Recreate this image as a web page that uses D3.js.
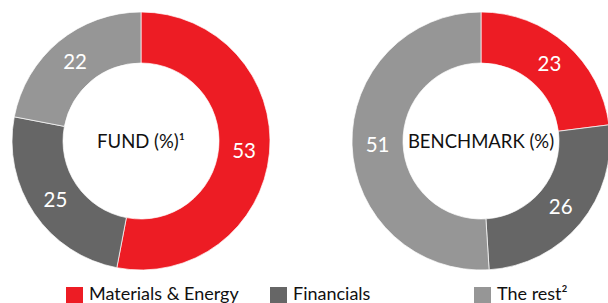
<!DOCTYPE html>
<html>
<head>
<meta charset="utf-8">
<script src="https://cdn.jsdelivr.net/npm/d3@7"></script>
<style>
  body { margin: 0; background: #fff; }
  svg { display: block; font-family: Lato, "Open Sans", sans-serif; }
</style>
</head>
<body>
<div id="chart"></div>
<script>
const W = 608, H = 303

// data
const sectors = ["Materials & Energy", "Financials", "The rest\u00B2"]
const fundValues = [53, 25, 22]
const benchValues = [23, 26, 51]
const donutTitles = ["FUND (%)\u00B9", "BENCHMARK (%)"]
const sectorColors = ["#ed1c24", "#666666", "#969696"]

let svg = d3.select("#chart")
            .append("svg")
            .attr("width", W)
            .attr("height", H)

let color = d3.scaleOrdinal().domain(sectors).range(sectorColors)

let outerR = 129, innerR = 78

let pie = d3.pie().sort(null).value(function(d) { return d.v })
let arc = d3.arc().innerRadius(innerR).outerRadius(outerR)
let labelArc = d3.arc().innerRadius((innerR + outerR) / 2).outerRadius((innerR + outerR) / 2)

// x positions of the two donut centres
let cx = d3.scalePoint().domain(donutTitles).range([141, 481])

function drawDonut(title, values) {
    let data = sectors.map(function(s, i) { return {k: s, v: values[i]} })
    let g = svg.append("g")
               .attr("transform", "translate(" + cx(title) + ",141)")

    g.selectAll("path")
     .data(pie(data))
     .enter()
     .append("path")
     .attr("d", arc)
     .attr("fill", function(d) { return color(d.data.k) })
     .attr("stroke", "#fff")
     .attr("stroke-width", 0.7)

    g.selectAll(".lbl")
     .data(pie(data))
     .enter()
     .append("text")
     .attr("class", "lbl")
     .attr("transform", function(d) { return "translate(" + labelArc.centroid(d) + ")" })
     .attr("text-anchor", "middle")
     .attr("dy", "0.36em")
     .attr("fill", "#fff")
     .style("font-size", "20.5px")
     .text(function(d) { return d.data.v })

    g.append("text")
     .attr("text-anchor", "middle")
     .attr("dy", "0.36em")
     .attr("fill", "#111")
     .style("font-size", "18.5px")
     .text(title)
}

drawDonut(donutTitles[0], fundValues)
drawDonut(donutTitles[1], benchValues)

// legend
let legX = d3.scaleOrdinal().domain(sectors).range([66, 270, 474])
let leg = svg.selectAll(".leg")
             .data(sectors)
             .enter()
             .append("g")
             .attr("class", "leg")
             .attr("transform", function(d) { return "translate(" + legX(d) + ",287)" })

leg.append("rect")
   .attr("width", 17)
   .attr("height", 17)
   .attr("fill", function(d) { return color(d) })

leg.append("text")
   .attr("x", 23)
   .attr("y", 12.5)
   .attr("fill", "#111")
   .style("font-size", "18px")
   .text(function(d) { return d })
</script>
</body>
</html>
